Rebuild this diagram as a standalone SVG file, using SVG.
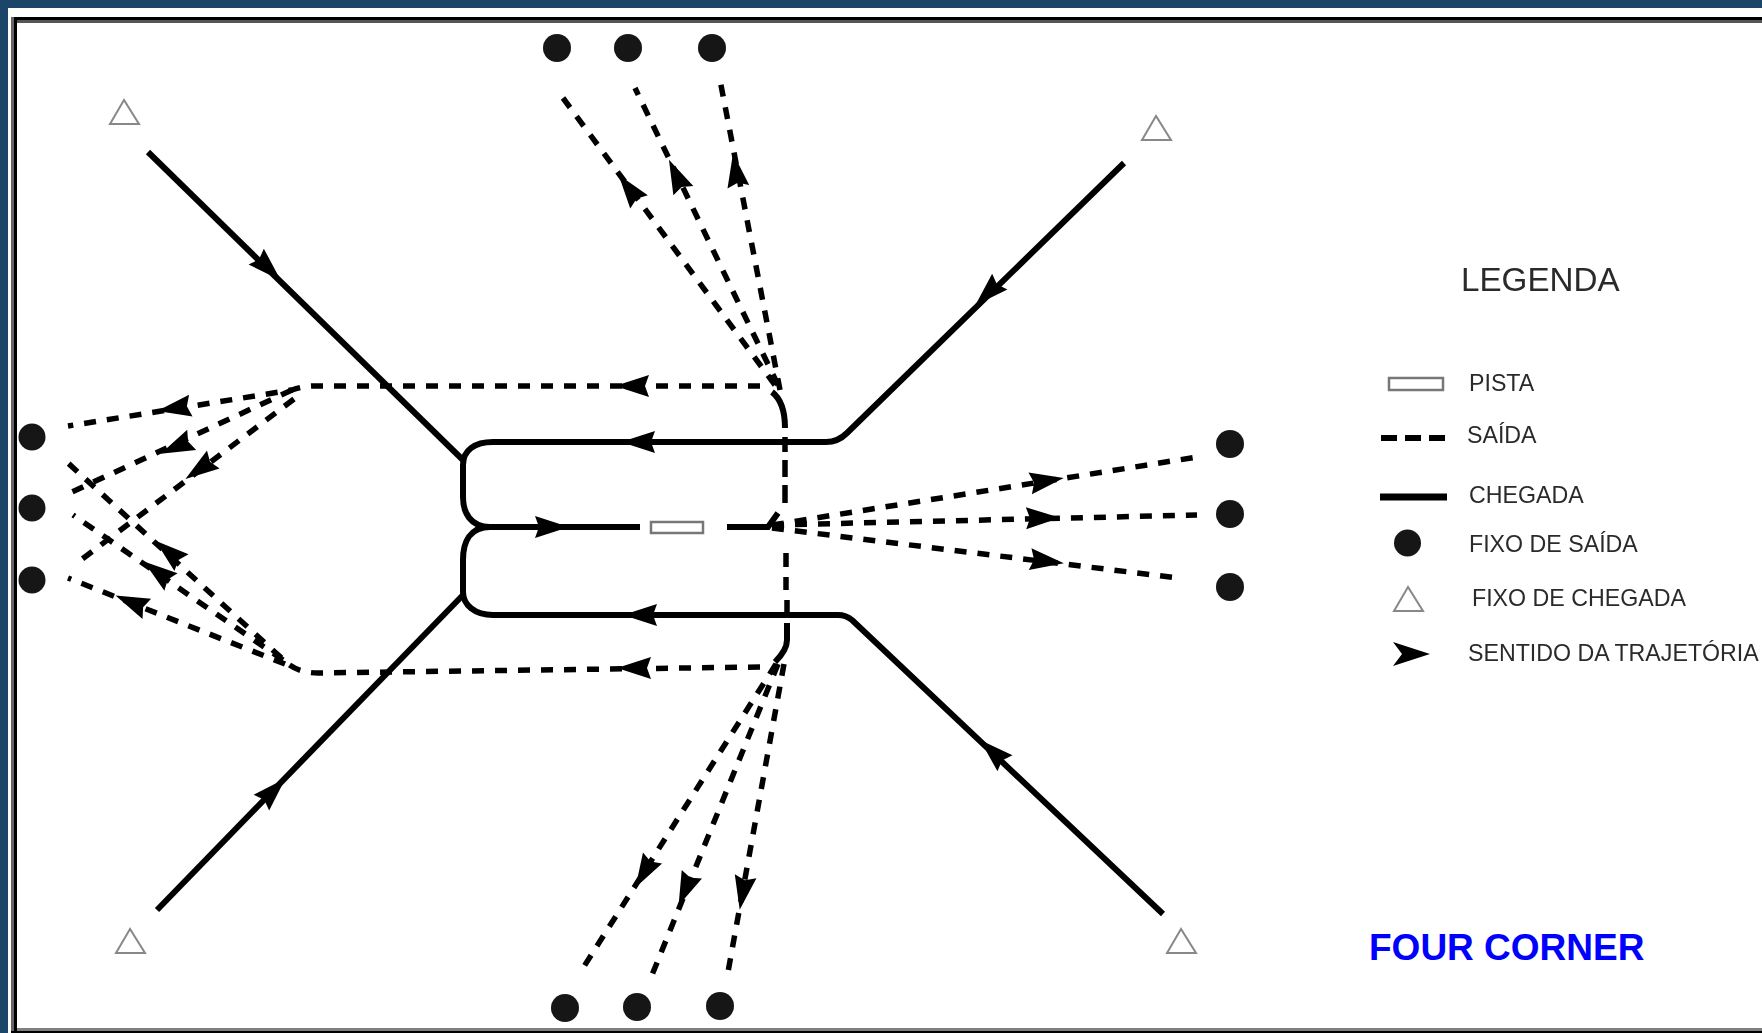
<svg xmlns="http://www.w3.org/2000/svg" width="1762" height="1033" viewBox="0 0 1762 1033">
<style>
.sol{fill:none;stroke:#000;stroke-width:6}
.das{fill:none;stroke:#000;stroke-width:5.500;stroke-dasharray:12 11}
.fix{fill:#151515}
.tri{fill:#fff;stroke:#888;stroke-width:2}
.rwy{fill:#fff;stroke:#777;stroke-width:2.500}
.leg{font-family:"Liberation Sans",Arial,sans-serif;font-size:23.200px;fill:#2a2a2a}
</style>
<defs>
<path id="ah" d="M19,0 L-15,-11 L-11,0 L-15,11 Z" fill="#000"/>
<filter id="soft" x="-2%" y="-2%" width="104%" height="104%"><feGaussianBlur stdDeviation="0.6"/></filter>
</defs>
<rect width="1762" height="1033" fill="#fff"/>
<g id="frame">
<rect x="0" y="0" width="1762" height="8" fill="#1b4669"/>
<rect x="0" y="0" width="8" height="1033" fill="#1b4669"/>
<rect x="11" y="17" width="3" height="1016" fill="#666"/>
<rect x="14" y="17" width="3" height="1016" fill="#000"/>
<rect x="14" y="17" width="1748" height="3" fill="#000"/>
<rect x="17" y="20" width="1745" height="3" fill="#555"/>
<rect x="17" y="1028" width="1745" height="3" fill="#808080"/>
<rect x="11" y="1031" width="1751" height="2" fill="#000"/>
</g>
<g filter="url(#soft)">
<g id="connectors">
<path class="sol" d="M148,152 L463,460"/>
<path class="sol" d="M1124,163 L847,433 Q838,442 826,442 L493,442 C475,442 463,450 463,465 L463,497 C463,512 470,527 490,527 L640,527"/>
<path class="sol" d="M157,910 L463,595"/>
<path class="sol" d="M1163,914 L852,620 Q846,615 838,615 L493,615 C475,615 463,605 463,592 L463,560 C463,542 470,527 490,527"/>
<path class="sol" d="M727,527 L768,527 L778,513" stroke-width="5"/>
<path class="das" d="M760,386 L314,386 Q303,386 292,390 L68,426"/>
<path class="das" d="M292,390 L72,492"/>
<path class="das" d="M294,399 L77,563"/>
<path class="das" d="M760,667 L318,673 Q300,673 288,664 L68,463"/>
<path class="das" d="M283,660 L73,515"/>
<path class="das" d="M285,664 L68,578"/>
<path class="sol" d="M772,392 Q785,402 785,428"/>
<path class="sol" d="M787,623 L787,640 Q787,650 775,662"/>
<path d="M785,437 V452 M785,460 V477 M785,485 V503 M786,553 V567 M786,577 V590 M787,600 V613" stroke="#000" stroke-width="5.500" fill="none"/>
<path class="das" d="M775,385 L563,98"/>
<path class="das" d="M778,385 L635,88"/>
<path class="das" d="M780,390 L720,80"/>
<path class="das" d="M776,664 L583,968"/>
<path class="das" d="M778,664 L652,975"/>
<path class="das" d="M784,664 L728,972"/>
<path class="das" d="M772,525 L1197,457"/>
<path class="das" d="M772,525 L1197,515"/>
<path class="das" d="M772,528 L1178,578"/>
</g>
<g id="arrowheads">
<use href="#ah" transform="translate(267,267) rotate(44)"/>
<use href="#ah" transform="translate(989,292) rotate(136)"/>
<use href="#ah" transform="translate(272,792) rotate(-45)"/>
<use href="#ah" transform="translate(994,753) rotate(-137)"/>
<use href="#ah" transform="translate(640,442) rotate(180)"/>
<use href="#ah" transform="translate(550,527)"/>
<use href="#ah" transform="translate(642,615) rotate(180)"/>
<use href="#ah" transform="translate(634,386) rotate(180)"/>
<use href="#ah" transform="translate(636,668) rotate(180)"/>
<use href="#ah" transform="translate(176,408) rotate(171)"/>
<use href="#ah" transform="translate(178,446) rotate(156)"/>
<use href="#ah" transform="translate(201,468) rotate(145)"/>
<use href="#ah" transform="translate(170,553) rotate(-140)"/>
<use href="#ah" transform="translate(159,573) rotate(-143)"/>
<use href="#ah" transform="translate(133,603) rotate(-157)"/>
<use href="#ah" transform="translate(630,190) rotate(-127)"/>
<use href="#ah" transform="translate(677,177) rotate(-115)"/>
<use href="#ah" transform="translate(736,172) rotate(-99)"/>
<use href="#ah" transform="translate(645,871) rotate(120)"/>
<use href="#ah" transform="translate(686,888) rotate(113)"/>
<use href="#ah" transform="translate(743,891) rotate(100)"/>
<use href="#ah" transform="translate(1045,481) rotate(-9)"/>
<use href="#ah" transform="translate(1041,518) rotate(-1)"/>
<use href="#ah" transform="translate(1045,561) rotate(7)"/>
</g>
<g id="runway"><rect class="rwy" x="651" y="522" width="52" height="11"/></g>
<g id="exit-top-1"><circle class="fix" cx="557" cy="48" r="14"/></g>
<g id="exit-top-2"><circle class="fix" cx="628" cy="48" r="14"/></g>
<g id="exit-top-3"><circle class="fix" cx="712" cy="48" r="14"/></g>
<g id="exit-left-1"><circle class="fix" cx="32" cy="437" r="13.500"/></g>
<g id="exit-left-2"><circle class="fix" cx="32" cy="508" r="13.500"/></g>
<g id="exit-left-3"><circle class="fix" cx="32" cy="580" r="13.500"/></g>
<g id="exit-right-1"><circle class="fix" cx="1230" cy="444" r="14"/></g>
<g id="exit-right-2"><circle class="fix" cx="1230" cy="514" r="14"/></g>
<g id="exit-right-3"><circle class="fix" cx="1230" cy="587" r="14"/></g>
<g id="exit-bottom-1"><circle class="fix" cx="565" cy="1008" r="14"/></g>
<g id="exit-bottom-2"><circle class="fix" cx="637" cy="1007" r="14"/></g>
<g id="exit-bottom-3"><circle class="fix" cx="720" cy="1006" r="14"/></g>
<g id="arrival-tl"><polygon class="tri" points="124,100 110,124 139,124"/></g>
<g id="arrival-tr"><polygon class="tri" points="1156,116 1142,140 1171,140"/></g>
<g id="arrival-bl"><polygon class="tri" points="130,929 116,953 145,953"/></g>
<g id="arrival-br"><polygon class="tri" points="1181,929 1167,953 1196,953"/></g>
<g id="legend">
<text class="leg" x="1461" y="291" style="font-size:33.200px">LEGENDA</text>
<rect class="rwy" x="1389" y="378" width="54" height="12"/>
<text class="leg" x="1469" y="391">PISTA</text>
<path d="M1381,438 H1445" stroke="#000" stroke-width="6" stroke-dasharray="16 8" fill="none"/>
<text class="leg" x="1467" y="443">SAÍDA</text>
<path d="M1380,497 H1447" stroke="#000" stroke-width="7" fill="none"/>
<text class="leg" x="1469" y="503">CHEGADA</text>
<circle class="fix" cx="1407.500" cy="543" r="13.500"/>
<text class="leg" x="1469" y="552">FIXO DE SAÍDA</text>
<polygon class="tri" points="1408,587 1394,611 1423,611"/>
<text class="leg" x="1472" y="606">FIXO DE CHEGADA</text>
<path d="M1430,654 L1393,642 L1402,654 L1393,666 Z" fill="#000"/>
<text class="leg" x="1468" y="661">SENTIDO DA TRAJETÓRIA</text>
</g>
</g>
<g id="title"><text x="1369" y="960" style="font-family:'Liberation Sans',Arial,sans-serif;font-size:37px;font-weight:bold;fill:#0000ff">FOUR CORNER</text></g>
</svg>
